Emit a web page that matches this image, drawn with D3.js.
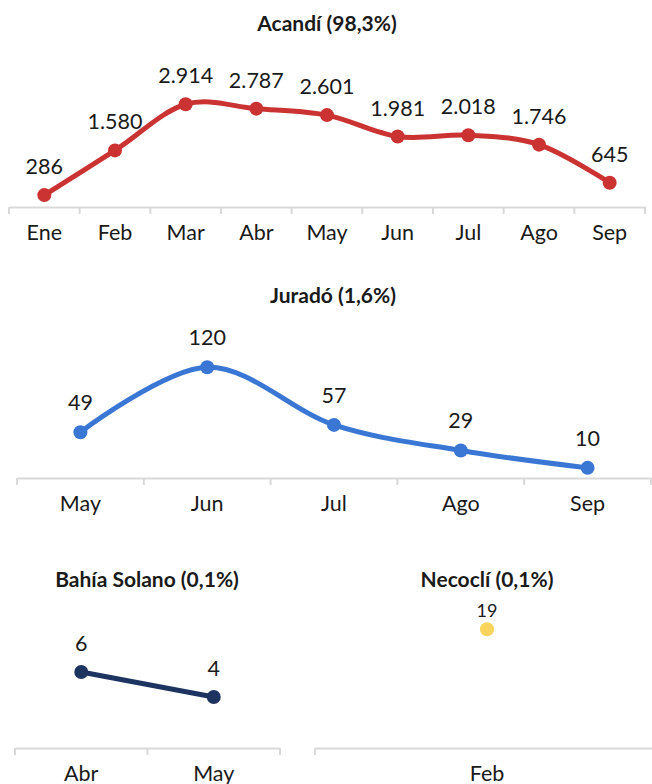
<!DOCTYPE html>
<html>
<head>
<meta charset="utf-8">
<script src="https://cdn.jsdelivr.net/npm/d3@7"></script>
<style>
  body { margin: 0; background: #fff; }
  svg { display: block; font-family: Lato, "Open Sans", sans-serif; }
</style>
</head>
<body>
<svg id="chart" width="652" height="784"></svg>
<script>
// Acandí
const acandiMonths = ["Ene", "Feb", "Mar", "Abr", "May", "Jun", "Jul", "Ago", "Sep"];
const acandiValues = [286, 1580, 2914, 2787, 2601, 1981, 2018, 1746, 645];

// Juradó
const juradoMonths = ["May", "Jun", "Jul", "Ago", "Sep"];
const juradoValues = [49, 120, 57, 29, 10];

// Bahía Solano
const bahiaMonths = ["Abr", "May"];
const bahiaValues = [6, 4];

// Necoclí
const necocliMonths = ["Feb"];
const necocliValues = [19];

const fmt = d3.formatLocale({ decimal: ",", thousands: ".", grouping: [3], currency: ["$", ""] }).format(",d");

const svg = d3.select("#chart");

// draw one small line panel
function drawPanel(p) {
    const g = svg.append("g");

    const x = d3.scaleBand().domain(p.months).range([p.x0, p.x1]);
    const y = d3.scaleLinear().domain([0, p.yMax]).range([p.zeroY, p.topY]);

    g.append("text")
        .attr("x", p.titleX)
        .attr("y", p.titleY)
        .attr("text-anchor", "middle")
        .attr("font-size", 21)
        .attr("font-weight", "bold")
        .attr("fill", "#1a1a1a")
        .text(p.title);

    // axis
    const axis = g.append("g")
        .attr("transform", `translate(0,${p.axisY})`)
        .call(d3.axisBottom(x).tickSize(0).tickPadding(18));
    axis.select(".domain").attr("stroke", "#d9d9d9").attr("stroke-width", 2);
    axis.selectAll("text").attr("font-size", 21.5).attr("fill", "#1a1a1a")
        .attr("font-family", "Lato, 'Open Sans', sans-serif");

    // band separators
    const edges = p.months.map(m => x(m)).concat([p.x1]);
    g.selectAll(".sep").data(edges).join("line")
        .attr("x1", d => d).attr("x2", d => d)
        .attr("y1", p.axisY).attr("y2", p.axisY + 7)
        .attr("stroke", "#d9d9d9").attr("stroke-width", 2);

    const pts = p.values.map((v, i) => ({ m: p.months[i], v }));
    const cx = d => x(d.m) + x.bandwidth() / 2;

    if (pts.length > 1) {
        const line = d3.line().x(cx).y(d => y(d.v)).curve(p.smooth ? d3.curveCardinal.tension(0) : d3.curveLinear);
        g.append("path")
            .datum(pts)
            .attr("d", line)
            .attr("fill", "none")
            .attr("stroke", p.color)
            .attr("stroke-width", 5)
            .attr("stroke-linecap", "round");
    }

    g.selectAll(".dot").data(pts).join("circle")
        .attr("cx", cx)
        .attr("cy", d => y(d.v))
        .attr("r", 7)
        .attr("fill", p.color);

    g.selectAll(".lbl").data(pts).join("text")
        .attr("x", cx)
        .attr("y", d => y(d.v) - p.labelOff)
        .attr("text-anchor", "middle")
        .attr("font-size", p.labelSize)
        .attr("fill", "#1a1a1a")
        .text(d => fmt(d.v));
}

drawPanel({
    title: "Acandí (98,3%)", titleX: 327, titleY: 31,
    months: acandiMonths, values: acandiValues,
    x0: 9, x1: 645, axisY: 207, zeroY: 205, topY: 84, yMax: 3500,
    color: "#cb3232", smooth: true, labelOff: 21, labelSize: 21.5
});

drawPanel({
    title: "Jurad\u00f3 (1,6%)", titleX: 333, titleY: 303,
    months: juradoMonths, values: juradoValues,
    x0: 17, x1: 651, axisY: 478, zeroY: 477, topY: 349, yMax: 140,
    color: "#3a76d4", smooth: true, labelOff: 22, labelSize: 21.5
});

drawPanel({
    title: "Bah\u00eda Solano (0,1%)", titleX: 147, titleY: 587,
    months: bahiaMonths, values: bahiaValues,
    x0: 15, x1: 280, axisY: 748, zeroY: 747, topY: 647, yMax: 8,
    color: "#1d3461", smooth: false, labelOff: 21, labelSize: 21.5
});

drawPanel({
    title: "Necocl\u00ed (0,1%)", titleX: 487, titleY: 587,
    months: necocliMonths, values: necocliValues,
    x0: 315, x1: 659, axisY: 748, zeroY: 747, topY: 623, yMax: 20,
    color: "#f9d45c", smooth: false, labelOff: 12, labelSize: 18
});
</script>
</body>
</html>
